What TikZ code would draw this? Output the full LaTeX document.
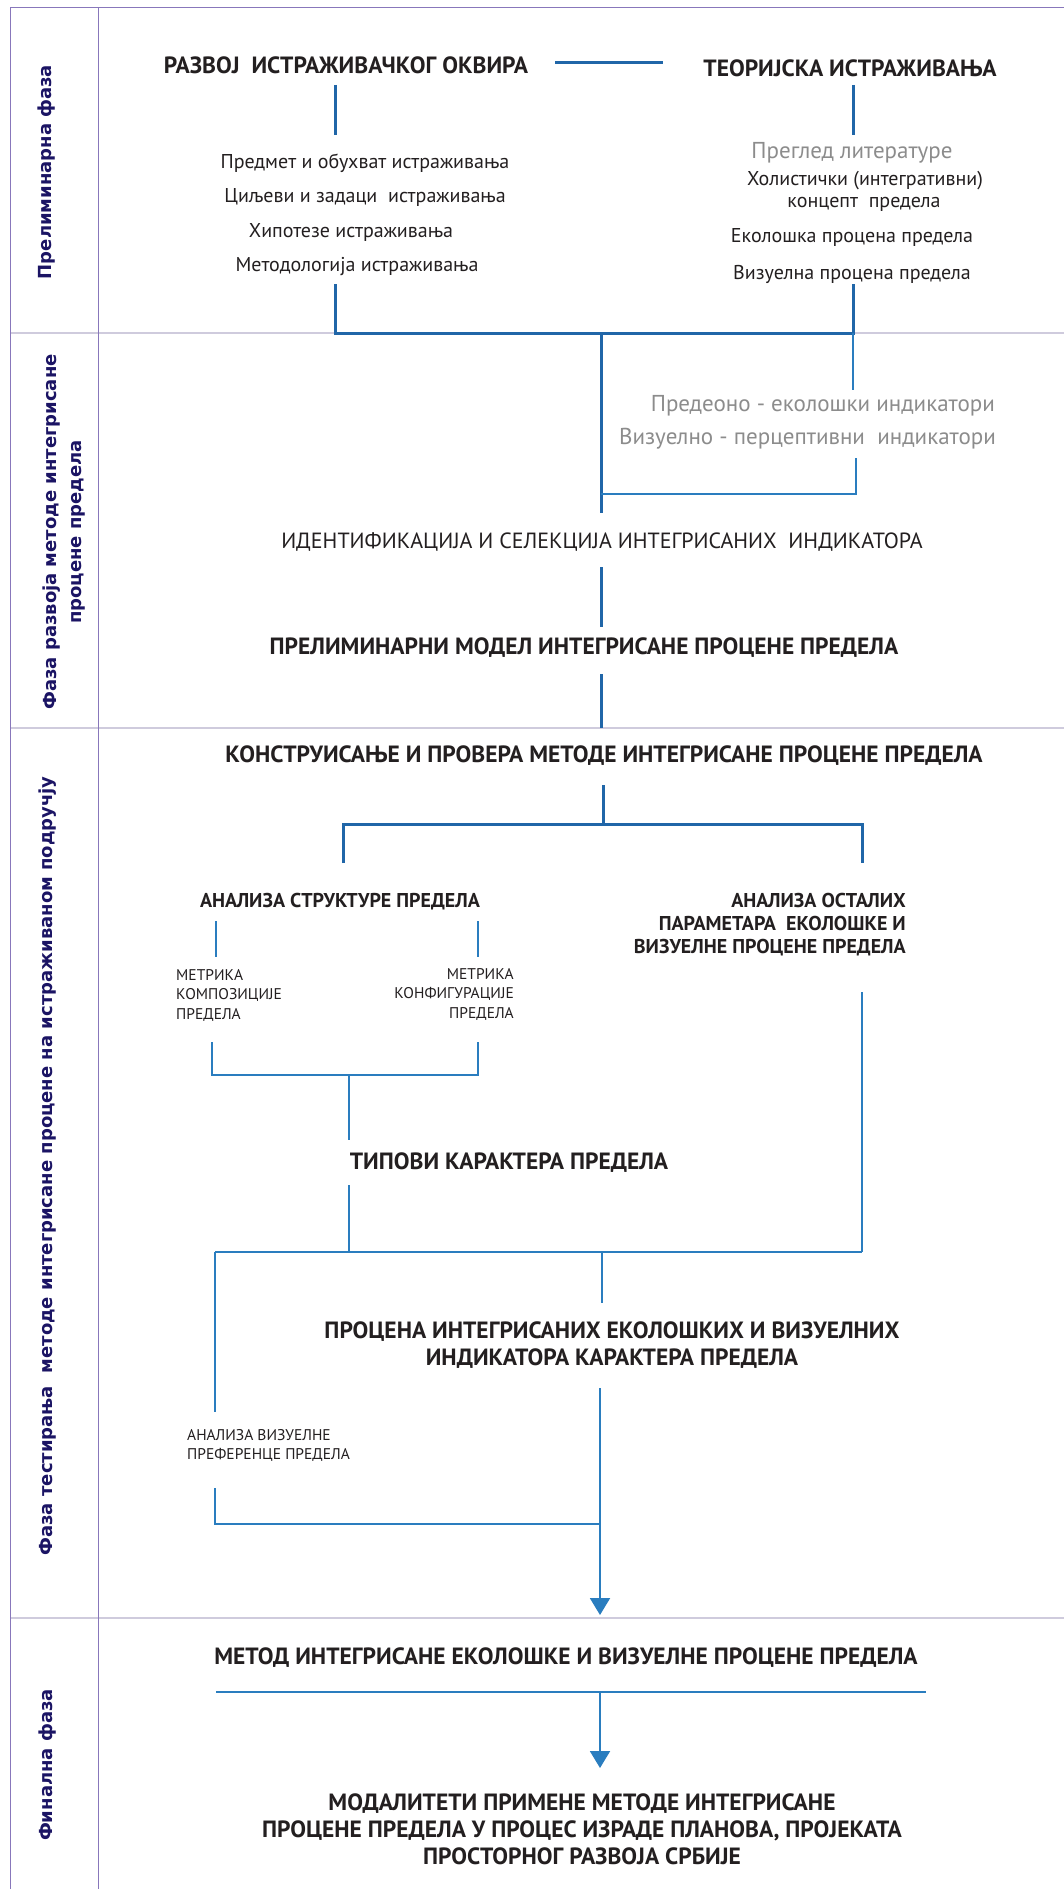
\documentclass[tikz,border=0pt]{standalone}
\usepackage{fontspec}
\setmainfont{PT Sans}
\newfontfamily\phasefont{DejaVu Sans}
\usetikzlibrary{arrows.meta}
\definecolor{txt}{HTML}{231F20}
\definecolor{graytxt}{HTML}{8C8C8C}
\definecolor{navy}{HTML}{1B1464}
\definecolor{bluedark}{HTML}{2066A8}
\definecolor{bluelight}{HTML}{2A7DBF}
\definecolor{framec}{HTML}{8877BB}
\definecolor{sepc}{HTML}{CFCBDD}
\begin{document}
\begin{tikzpicture}[x=1pt,y=-1pt,
  every node/.style={inner sep=0pt, text=txt},
  hbold/.style={font=\fontsize{23.5}{27}\selectfont\bfseries},
  hmid/.style={font=\fontsize{20}{23}\selectfont\bfseries},
  hreg/.style={font=\fontsize{22}{25}\selectfont},
  lst/.style={font=\fontsize{20}{23}\selectfont},
  glst/.style={font=\fontsize{23}{25}\selectfont, text=graytxt},
  small/.style={font=\fontsize{15.5}{19.5}\selectfont},
  phase/.style={rotate=90, font=\phasefont\fontsize{18}{25}\selectfont\bfseries, text=navy, align=center},
  thick line/.style={draw=bluedark, line width=3pt},
  mid line/.style={draw=bluelight, line width=2pt},
  thin line/.style={draw=bluelight, line width=1.3pt},
  arrowline/.style={draw=bluelight, line width=2pt, -{Triangle[width=20pt,length=17pt]}},
  framel/.style={draw=framec, line width=1pt},
  sepl/.style={draw=sepc, line width=2.2pt}
]
\useasboundingbox (0,0) rectangle (1064,1889);
\fill[white] (0,0) rectangle (1064,1889);

% frame
\draw[sepl] (10,333) -- (1064,333);
\draw[sepl] (10,728) -- (1064,728);
\draw[sepl] (10,1618) -- (1064,1618);
\draw[framel] (10,1889) -- (10,8) -- (1064,8);
\draw[framel] (98,8) -- (98,1889);

% phase labels
\node[phase] (ph1) at (47,172) {Прелиминарна фаза};
\node[phase] (ph2) at (64,532) {Фаза развоја методе интегрисане\\процене предела};
\node[phase] (ph3) at (48,1166) {Фаза тестирања\ \ методе интегрисане процене на истраживаном подручју};
\node[phase] (ph4) at (48,1765) {Финална фаза};

% phase 1
\node[hbold] (t1) at (346,65) {РАЗВОЈ\ \ ИСТРАЖИВАЧКОГ ОКВИРА};
\node[hbold] (t2) at (850,68) {ТЕОРИЈСКА ИСТРАЖИВАЊА};
\coordinate (c1a) at (555,63);
\coordinate (c1b) at (663,63);
\draw[thick line] (c1a) -- (c1b);

\node[lst] (l1) at (365,163) {Предмет и обухват истраживања};
\node[lst] (l2) at (365,198) {Циљеви и задаци\ \ истраживања};
\node[lst] (l3) at (351,232) {Хипотезе истраживања};
\node[lst] (l4) at (357,267) {Методологија истраживања};

\node[glst] (r0) at (852,153) {Преглед литературе};
\node[lst] (r1) at (865,181) {Холистички (интегративни)};
\node[lst] (r2) at (864,204) {концепт\ \ предела};
\node[lst] (r3) at (852,237) {Еколошка процена предела};
\node[lst] (r4) at (852,274) {Визуелна процена предела};

\coordinate (v1a) at (335,85);  \coordinate (v1b) at (335,135);
\coordinate (v2a) at (853,85);  \coordinate (v2b) at (853,135);
\draw[thick line] (v1a) -- (v1b);
\draw[thick line] (v2a) -- (v2b);
\coordinate (j1l) at (335,284); \coordinate (j1r) at (853,284);
\draw[thick line] (j1l) -- (335,333) -- (853,333) -- (j1r);

% phase 2
\coordinate (c2top) at (601,333);
\draw[thick line] (c2top) -- (601,513);
\draw[thin line] (853,333) -- (853,390);
\node[glst, anchor=east] (g1) at (995,406) {Предеоно - еколошки индикатори};
\node[glst, anchor=east] (g2) at (996,439) {Визуелно - перцептивни\ \ индикатори};
\coordinate (g2b) at (856,458);
\draw[thin line] (g2b) -- (856,494) -- (601,494);

\node[hreg] (i1) at (602,542) {ИДЕНТИФИКАЦИЈА И СЕЛЕКЦИЈА ИНТЕГРИСАНИХ\ \ ИНДИКАТОРА};
\draw[thick line] (601,567) -- (601,627);
\node[hbold] (p1) at (584,648) {ПРЕЛИМИНАРНИ МОДЕЛ ИНТЕГРИСАНЕ ПРОЦЕНЕ ПРЕДЕЛА};
\draw[thick line] (601,674) -- (601,728);

% phase 3
\node[hbold] (k1) at (604,756) {КОНСТРУИСАЊЕ И ПРОВЕРА МЕТОДЕ ИНТЕГРИСАНЕ ПРОЦЕНЕ ПРЕДЕЛА};
\draw[thick line] (603,785) -- (603,824);
\draw[thick line] (343,863) -- (343,824) -- (862,824) -- (862,863);

\node[hmid] (a1) at (340,902) {АНАЛИЗА СТРУКТУРЕ ПРЕДЕЛА};
\node[hmid, anchor=north east, align=right] (a2) at (906,893) {АНАЛИЗА ОСТАЛИХ\\ПАРАМЕТАРА\ \ ЕКОЛОШКЕ И\\ВИЗУЕЛНЕ ПРОЦЕНЕ ПРЕДЕЛА};

\draw[thin line] (216,921) -- (216,957);
\draw[thin line] (478,921) -- (478,957);
\node[small, anchor=north west, align=left] (m1) at (176,969) {МЕТРИКА\\КОМПОЗИЦИЈЕ\\ПРЕДЕЛА};
\node[small, anchor=north east, align=right] (m2) at (514,968) {МЕТРИКА\\КОНФИГУРАЦИЈЕ\\ПРЕДЕЛА};

\draw[mid line] (212,1042) -- (212,1075) -- (478,1075) -- (478,1042);
\draw[thin line] (349,1075) -- (349,1140);
\node[hbold] (tp) at (509,1163) {ТИПОВИ КАРАКТЕРА ПРЕДЕЛА};
\draw[thin line] (349,1185) -- (349,1252);
\draw[thin line] (862,992) -- (862,1252);
\draw[mid line] (215,1252) -- (862,1252);
\draw[mid line] (602,1252) -- (602,1303);

\node[hbold, align=center] (pr) at (612,1345) {ПРОЦЕНА ИНТЕГРИСАНИХ ЕКОЛОШКИХ И ВИЗУЕЛНИХ\\ИНДИКАТОРА КАРАКТЕРА ПРЕДЕЛА};

\draw[thin line] (215,1252) -- (215,1412);
\node[small, anchor=north west, align=left] (av) at (187,1429) {АНАЛИЗА ВИЗУЕЛНЕ\\ПРЕФЕРЕНЦЕ ПРЕДЕЛА};
\draw[thin line] (215,1488) -- (215,1524) -- (600,1524);
\coordinate (arr1) at (600,1615);
\draw[arrowline] (600,1388) -- (arr1);

% phase 4
\node[hbold] (mt) at (566,1658) {МЕТОД ИНТЕГРИСАНЕ ЕКОЛОШКЕ И ВИЗУЕЛНЕ ПРОЦЕНЕ ПРЕДЕЛА};
\draw[mid line] (216,1692) -- (926,1692);
\coordinate (arr2) at (600,1768);
\draw[arrowline] (600,1692) -- (arr2);
\node[hbold, align=center] (mo) at (582,1829) {МОДАЛИТЕТИ ПРИМЕНЕ МЕТОДЕ ИНТЕГРИСАНЕ\\ПРОЦЕНЕ ПРЕДЕЛА У ПРОЦЕС ИЗРАДЕ ПЛАНОВА, ПРОЈЕКАТА\\ПРОСТОРНОГ РАЗВОЈА СРБИЈЕ};
\end{tikzpicture}
\end{document}
